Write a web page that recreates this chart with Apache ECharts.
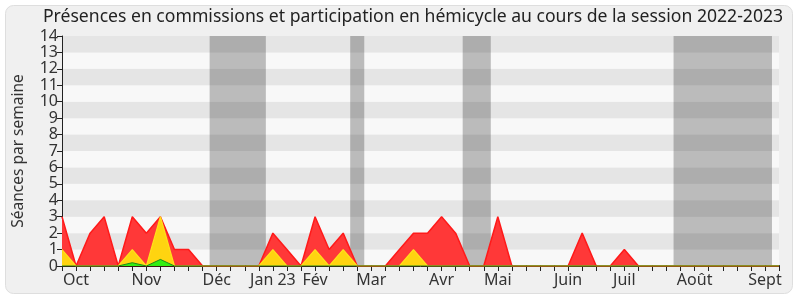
<!DOCTYPE html>
<html><head><meta charset="utf-8">
<script src="https://cdn.jsdelivr.net/npm/echarts@6/dist/echarts.min.js"></script>
<style>html,body{margin:0;padding:0;background:#fff}#c{width:800px;height:300px}</style>
</head><body><div id="c"></div>
<script>
// Weekly values, season 2022-2023 (52 weeks)
const presenceCommission = [3,0,2,3,0,3,2,3,1,1,0,0,0,0,0,2,1,0,3,1,2,0,0,0,1,2,2,3,2,0,0,3,0,0,0,0,0,2,0,0,1,0,0,0,0,0,0,0,0,0,0,0];
const interventionsCommission = [1,0,0,0,0,1,0,3,0,0,0,0,0,0,0,1,0,0,1,0,1,0,0,0,0,1,0,0,0,0,0,0,0,0,0,0,0,0,0,0,0,0,0,0,0,0,0,0,0,0,0,0];
const interventionsHemicycle = [0,0,0,0,0,0.2,0,0.4,0,0,0,0,0,0,0,0,0,0,0,0,0,0,0,0,0,0,0,0,0,0,0,0,0,0,0,0,0,0,0,0,0,0,0,0,0,0,0,0,0,0,0,0];
// month tick labels: week index -> label
const monthWeeks = [1,6,11,15,18,22,27,31,36,40,45,50];
const monthLabels = ['Oct','Nov','Déc','Jan 23','Fév','Mar','Avr','Mai','Juin','Juil','Août','Sept'];
// parliamentary holidays (week index ranges)
const vacationStart = [10.5,20.5,28.5,43.5];
const vacationEnd = [14.5,21.5,30.5,50.5];
const yTicks = [0,1,2,3,4,5,6,7,8,9,10,11,12,13,14];
const titleText = 'Présences en commissions et participation en hémicycle au cours de la session 2022-2023';
const yName = 'Séances par semaine';

const FONT = '"Noto Sans", "Open Sans", sans-serif';
const toPairs = arr => arr.map((v,i)=>[i,v]);
const labelMap = {};
monthWeeks.forEach((w,i)=>labelMap[w]=monthLabels[i]);

const chart = echarts.init(document.getElementById('c'), null, {renderer:'canvas'});
chart.setOption({
  animation:false,
  backgroundColor:'#fff',
  graphic:[
    {type:'rect', z:-10, shape:{x:5.5,y:5.5,width:787,height:288,r:8}, style:{fill:'#f0f0f0',stroke:'#dedede',lineWidth:1}},
    {type:'text', z:10, style:{text:titleText, x:413, y:17, textAlign:'center', textVerticalAlign:'middle', font:'17.6px '+FONT, fill:'#222'}}
  ],
  grid:{left:62,right:21,top:36,bottom:34,show:false},
  xAxis:[{
    type:'value', min:0, max:51, interval:1,
    axisLine:{show:true,onZero:false,lineStyle:{color:'#3a1a10',width:1}},
    axisTick:{show:true,length:5,lineStyle:{color:'#222'}},
    splitLine:{show:false},
    axisLabel:{formatter:v=>labelMap[v]||'', fontSize:16, fontFamily:FONT, color:'#333', margin:6, hideOverlap:false, showMinLabel:true, showMaxLabel:true}
  },{
    type:'value', min:0, max:51, interval:1, position:'top',
    axisLine:{show:false}, axisTick:{show:true,length:1,lineStyle:{color:'#444'}},
    axisLabel:{show:false}, splitLine:{show:false}
  }],
  yAxis:{
    type:'value', min:0, max:14, interval:1,
    name:yName, nameLocation:'middle', nameGap:35, nameRotate:90,
    nameTextStyle:{fontSize:15.5, fontFamily:FONT, color:'#333'},
    axisLine:{show:true,lineStyle:{color:'#222'}},
    axisTick:{show:true,length:5,lineStyle:{color:'#222'}},
    axisLabel:{fontSize:16, fontFamily:FONT, color:'#333', margin:4, formatter:v=>yTicks.includes(v)?String(v):''},
    splitLine:{show:false},
    splitArea:{show:true, areaStyle:{color:['#f8f8f8','#e5e5e5']}}
  },
  series:[
    {type:'line', data:[], z:1, xAxisIndex:0, silent:true,
     markArea:{silent:true, itemStyle:{color:'rgba(0,0,0,0.245)'},
       data: vacationStart.map((s,i)=>[{xAxis:s},{xAxis:vacationEnd[i]}])}},
    {type:'line', data:toPairs(presenceCommission), z:2, symbol:'none',
     lineStyle:{color:'#ff1a1a',width:1.5}, areaStyle:{color:'#ff3838',opacity:1}},
    {type:'line', data:toPairs(interventionsCommission), z:3, symbol:'none',
     lineStyle:{color:'#ffe01a',width:1.2}, areaStyle:{color:'#ffd410',opacity:1}},
    {type:'line', data:toPairs(interventionsHemicycle), z:4, symbol:'none',
     lineStyle:{color:'#1a8a1a',width:1}, areaStyle:{color:'#33ee11',opacity:1}}
  ]
});
</script></body></html>
